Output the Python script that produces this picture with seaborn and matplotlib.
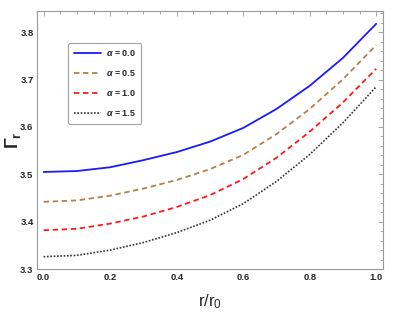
import numpy as np
import pandas as pd
import seaborn as sns
import matplotlib
matplotlib.use("Agg")
import matplotlib.pyplot as plt
from matplotlib.ticker import MultipleLocator

r_vals = [0.0, 0.1, 0.2, 0.3, 0.4, 0.5, 0.6, 0.7, 0.8, 0.9, 1.0]
gamma_a00 = [3.505, 3.507, 3.515, 3.530, 3.547, 3.569, 3.598, 3.638, 3.687, 3.746, 3.818]
gamma_a05 = [3.442, 3.445, 3.455, 3.470, 3.488, 3.511, 3.541, 3.585, 3.638, 3.701, 3.773]
gamma_a10 = [3.382, 3.385, 3.396, 3.411, 3.431, 3.456, 3.490, 3.535, 3.590, 3.652, 3.723]
gamma_a15 = [3.326, 3.329, 3.340, 3.356, 3.377, 3.403, 3.438, 3.485, 3.542, 3.609, 3.685]
labels = [r"$\alpha$ = 0.0", r"$\alpha$ = 0.5", r"$\alpha$ = 1.0", r"$\alpha$ = 1.5"]

sns.set_theme(style="white")
plt.rcParams["font.family"] = ["Liberation Sans", "DejaVu Sans"]
plt.rcParams["mathtext.fontset"] = "custom"
plt.rcParams["mathtext.rm"] = "Liberation Sans"
plt.rcParams["mathtext.it"] = "Liberation Sans:italic:bold"
plt.rcParams["mathtext.bf"] = "Liberation Sans:bold"

series = [gamma_a00, gamma_a05, gamma_a10, gamma_a15]
colors = ["#1a1aff", "#b5804a", "#ff1a1a", "#333333"]
styles = ["-", (0, (3, 2)), (0, (3, 2)), (0, (1, 1))]
widths = [1.3, 1.3, 1.3, 1.2]

fig = plt.figure(figsize=(3.98, 3.23), dpi=100)
ax = fig.add_axes([0.093, 0.167, 0.869, 0.799])

for vals, lab, c, ls, lw in zip(series, labels, colors, styles, widths):
    df = pd.DataFrame({"r": r_vals, "g": vals})
    sns.lineplot(data=df, x="r", y="g", ax=ax, color=c, linestyle=ls,
                 linewidth=lw, label=lab)

ax.set_xlim(-0.02, 1.02)
ax.set_ylim(3.3, 3.845)
ax.xaxis.set_major_locator(MultipleLocator(0.2))
ax.xaxis.set_minor_locator(MultipleLocator(0.05))
ax.yaxis.set_major_locator(MultipleLocator(0.1))
ax.yaxis.set_minor_locator(MultipleLocator(0.02))
ax.xaxis.set_major_formatter(matplotlib.ticker.FormatStrFormatter("%.1f"))
ax.yaxis.set_major_formatter(matplotlib.ticker.FormatStrFormatter("%.1f"))
ax.tick_params(which="both", direction="in", top=True, right=True,
               color="#999999", width=0.6)
ax.tick_params(which="major", length=3.5, labelsize=6.8, pad=2.5)
ax.tick_params(which="minor", length=2)
for t in ax.get_xticklabels() + ax.get_yticklabels():
    t.set_fontweight("bold")
for s in ax.spines.values():
    s.set_color("#999999")
    s.set_linewidth(0.8)

ax.set_xlabel(r"r/r$_0$", fontsize=12, labelpad=8)
ax.set_ylabel(r"$\mathbf{\Gamma}_\mathbf{r}$", fontsize=13)
ax.yaxis.set_label_coords(-0.04, 0.5)

leg = ax.legend(loc="upper left", bbox_to_anchor=(0.09, 0.876), borderaxespad=0,
                frameon=True, fancybox=True, edgecolor="#888888",
                prop={"size": 6.5, "weight": "bold"}, handlelength=3.0,
                labelspacing=1.1, borderpad=0.6, handletextpad=0.6)
leg.get_frame().set_linewidth(0.8)

fig.savefig("out.png", dpi=100)
